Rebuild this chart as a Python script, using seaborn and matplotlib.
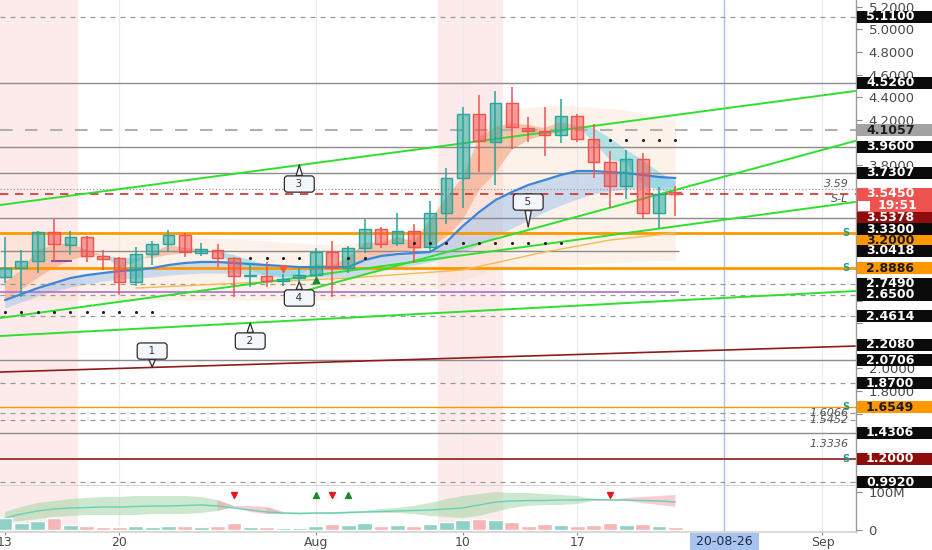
import numpy as np
import pandas as pd
import matplotlib
matplotlib.use("Agg")
import matplotlib.pyplot as plt
import matplotlib.transforms as mtransforms
from matplotlib.colors import to_rgba
from matplotlib.patches import Rectangle
import seaborn as sns

# ---------------- data (daily candles, day 0 = 13 Jul 2020) ----------------
days = list(range(42))
opens = [2.809, 2.888, 2.950, 3.207, 3.092, 3.163, 2.995, 2.977, 2.764, 3.012,
         3.101, 3.181, 3.021, 3.048, 2.977, 2.818, 2.818, 2.773, 2.800, 2.826,
         3.030, 2.888, 3.066, 3.234, 3.110, 3.216, 3.074, 3.376, 3.685, 4.252,
         4.004, 4.349, 4.128, 4.101, 4.066, 4.234, 4.030, 3.827, 3.614, 3.853,
         3.376, 3.561]
highs = [3.163, 3.048, 3.216, 3.322, 3.216, 3.170, 3.048, 2.986, 3.074, 3.128,
         3.225, 3.198, 3.110, 3.101, 2.986, 2.933, 2.942, 2.835, 2.897, 3.066,
         3.128, 3.083, 3.322, 3.251, 3.376, 3.278, 3.482, 3.774, 4.313, 4.420,
         4.455, 4.491, 4.225, 4.313, 4.384, 4.252, 4.163, 3.924, 3.933, 3.907,
         3.605, 3.614]
lows = [2.756, 2.632, 2.844, 2.950, 3.004, 2.942, 2.871, 2.650, 2.729, 2.915,
        3.030, 2.986, 2.995, 2.897, 2.632, 2.720, 2.720, 2.729, 2.764, 2.809,
        2.632, 2.844, 3.021, 3.066, 3.083, 2.933, 3.021, 3.278, 3.420, 3.738,
        3.623, 3.942, 4.004, 3.880, 3.995, 4.004, 3.685, 3.420, 3.499, 3.322,
        3.243, 3.349]
closes = [2.888, 2.950, 3.207, 3.101, 3.163, 2.995, 2.968, 2.764, 3.012, 3.101,
          3.181, 3.030, 3.057, 2.977, 2.818, 2.826, 2.773, 2.791, 2.826, 3.030,
          2.888, 3.066, 3.234, 3.101, 3.216, 3.074, 3.376, 3.685, 4.252, 4.013,
          4.349, 4.137, 4.101, 4.066, 4.234, 4.030, 3.827, 3.614, 3.853, 3.376,
          3.544, 3.545]
volumes_m = [31.6, 18.4, 23.7, 31.6, 13.2, 10.5, 7.9, 7.9, 10.5, 7.9,
             10.5, 10.5, 7.9, 10.5, 18.4, 7.9, 7.0, 5.3, 5.3, 10.5,
             15.8, 12.0, 18.4, 10.5, 13.2, 10.5, 15.8, 21.0, 26.3, 29.0,
             26.3, 21.0, 10.5, 15.8, 13.2, 10.5, 13.2, 18.4, 13.2, 15.8,
             10.5, 7.9]

# moving-average ribbons
ema_fast = [2.764, 2.871, 3.048, 3.092, 3.110, 3.048, 3.004, 2.888, 2.942, 3.021,
            3.092, 3.066, 3.057, 3.021, 2.915, 2.871, 2.818, 2.800, 2.818, 2.924,
            2.906, 2.986, 3.110, 3.110, 3.163, 3.119, 3.313, 3.517, 3.694, 4.048,
            4.137, 4.172, 4.154, 4.128, 4.181, 4.145, 4.004, 3.845, 3.818, 3.623,
            3.579, 3.552]
ema_mid = [2.605, 2.694, 2.800, 2.888, 2.959, 2.995, 3.004, 2.977, 2.977, 2.977,
           3.004, 3.021, 3.030, 3.030, 3.004, 2.959, 2.915, 2.888, 2.871, 2.888,
           2.888, 2.906, 2.959, 2.995, 3.030, 3.048, 3.074, 3.163, 3.313, 3.579,
           3.729, 3.933, 4.021, 4.066, 4.083, 4.145, 4.128, 4.039, 3.933, 3.845,
           3.738, 3.650]
ema_blue = [2.605, 2.658, 2.711, 2.756, 2.800, 2.826, 2.844, 2.862, 2.871, 2.888,
            2.915, 2.933, 2.942, 2.942, 2.933, 2.924, 2.915, 2.906, 2.897, 2.897,
            2.897, 2.897, 2.959, 2.995, 3.012, 3.021, 3.030, 3.119, 3.260, 3.384,
            3.490, 3.561, 3.623, 3.667, 3.712, 3.747, 3.747, 3.738, 3.729, 3.712,
            3.694, 3.685]
ema_blue_low = [2.535, 2.588, 2.641, 2.685, 2.720, 2.747, 2.773, 2.791, 2.800, 2.809,
                2.826, 2.835, 2.844, 2.844, 2.844, 2.835, 2.826, 2.818, 2.809, 2.809,
                2.809, 2.809, 2.835, 2.862, 2.888, 2.915, 2.942, 2.977, 3.030, 3.092,
                3.163, 3.243, 3.313, 3.384, 3.446, 3.499, 3.544, 3.570, 3.588, 3.596,
                3.605, 3.605]
slow_ma_days = [8, 21, 28, 33, 37, 41]
slow_ma = [2.711, 2.800, 2.871, 3.030, 3.136, 3.198]

cloud_days = [0, 10, 20, 26, 28, 30, 34, 38, 41]
cloud_top = [3.181, 3.181, 3.092, 3.181, 3.667, 4.287, 4.331, 4.287, 4.198]
cloud_bot = [2.605, 2.605, 2.605, 2.694, 2.782, 2.871, 2.915, 2.942, 2.959]

# lower pane oscillator band (in volume-pane units)
osc_line = [31.6, 42.1, 50.0, 55.3, 57.9, 59.2, 60.5, 60.5, 61.8, 63.2,
            63.2, 64.5, 65.8, 63.2, 57.9, 52.6, 47.4, 44.7, 43.4, 44.7,
            44.7, 46.1, 47.4, 48.7, 50.0, 51.3, 52.6, 55.3, 57.9, 65.8,
            73.7, 76.3, 77.6, 77.6, 78.9, 78.9, 80.3, 78.9, 78.9, 77.6,
            76.3, 73.7]
osc_up = [47.4, 60.5, 71.1, 76.3, 81.6, 84.2, 86.8, 86.8, 89.5, 89.5,
          89.5, 89.5, 86.8, 78.9, 63.2, 63.2, 60.5, 47.4, 46.1, 46.1,
          47.4, 48.7, 50.0, 55.3, 57.9, 63.2, 71.1, 81.6, 89.5, 94.7,
          100.0, 97.4, 97.4, 94.7, 92.1, 89.5, 81.6, 80.3, 84.2, 86.8,
          89.5, 92.1]
osc_lo = [21.1, 23.7, 28.9, 34.2, 36.8, 39.5, 39.5, 39.5, 39.5, 42.1,
          42.1, 42.1, 44.7, 50.0, 60.5, 47.4, 42.1, 42.1, 40.8, 42.1,
          42.1, 43.4, 44.7, 44.7, 44.7, 42.1, 36.8, 34.2, 31.6, 36.8,
          47.4, 57.9, 63.2, 65.8, 65.8, 68.4, 76.3, 77.6, 76.3, 71.1,
          65.8, 60.5]
osc_trend = [1, 1, 1, 1, 1, 1, 1, 1, 1, 1, 1, 1, 1, 1, -1, -1, -1, 1, 1, 1,
             1, 1, 1, 1, 1, 1, 1, 1, 1, 1, 1, 1, 1, 1, 1, 1, 1, -1, -1, -1,
             -1, -1]
sig_dn_days = [14, 20, 37]
sig_up_days = [19, 21]
sig_level = 92

# drawings on the price pane
solid_levels = [4.526, 3.96, 3.7307, 3.33, 2.0706, 1.4306]
dashed_levels = [5.11, 2.749, 2.65, 2.4614, 1.87, 0.992, 1.6066, 1.5452]
orange_levels = [3.2, 2.8886, 1.6549]
support_levels = [3.2, 2.8886, 1.6549, 1.2]
trend_lines = [(-0.3, 3.446, 52, 4.455), (17.4, 2.650, 52, 4.013),
               (-0.3, 2.446, 52, 3.473), (-0.3, 2.287, 52, 2.685)]
red_trend = (-0.3, 1.968, 52, 2.198)
dot_rows = [([0, 1, 2, 3, 4, 5, 6, 7, 8, 9], 2.499),
            ([15, 16, 17, 18, 21, 22], 2.977),
            ([25, 26, 27, 28, 29, 30, 31, 32, 33, 34], 3.110),
            ([37, 38, 39, 40, 41], 4.022)]
callout_text = ['1', '2', '3', '4', '5']
callout_days = [9, 15, 18, 18, 32]
callout_prices = [2.012, 2.402, 3.800, 2.765, 3.251]

axis_tags = [('5.1100', 5.11, '#0b0b0b', 'white'), ('4.5260', 4.526, '#0b0b0b', 'white'),
             ('4.1057', 4.1057, '#a3a3a3', '#1b1b1b'), ('3.9600', 3.96, '#0b0b0b', 'white'),
             ('3.7307', 3.7307, '#0b0b0b', 'white'), ('3.5450', 3.545, '#ef5350', 'white'),
             ('19:51', 3.545, '#ef5350', 'white'), ('3.5378', 3.5378, '#8e0c0c', 'white'),
             ('3.3300', 3.33, '#0b0b0b', 'white'), ('3.2000', 3.2, '#ff9800', '#1b1b1b'),
             ('3.0418', 3.0418, '#0b0b0b', 'white'), ('2.8886', 2.8886, '#ff9800', '#1b1b1b'),
             ('2.7490', 2.749, '#0b0b0b', 'white'), ('2.6500', 2.65, '#0b0b0b', 'white'),
             ('2.4614', 2.4614, '#0b0b0b', 'white'), ('2.2080', 2.208, '#0b0b0b', 'white'),
             ('2.0706', 2.0706, '#0b0b0b', 'white'), ('1.8700', 1.87, '#0b0b0b', 'white'),
             ('1.6549', 1.6549, '#ff9800', '#1b1b1b'), ('1.4306', 1.4306, '#0b0b0b', 'white'),
             ('1.2000', 1.2, '#8e0c0c', 'white'), ('0.9920', 0.992, '#0b0b0b', 'white')]
date_ticks = [0, 7, 19, 28, 35, 50]
date_labels = ['13', '20', 'Aug', '10', '17', 'Sep']
shade_ranges = [(-0.5, 4.45), (26.5, 30.45)]

# ---------------- layout ----------------
W, H = 932, 550
tag_nudge = {'19:51': 12, '3.5378': 23, '3.3300': 11, '3.2000': 8}
callout_offset = [16, -18, -19, -16, 25]

sns.set_theme(style="white")
plt.rcParams['font.family'] = ['DejaVu Sans']

fig = plt.figure(figsize=(W / 100, H / 100), dpi=100)
fig.patch.set_facecolor('white')
ax = fig.add_axes([0, 64 / H, 856 / W, 486 / H])
axv = fig.add_axes([0, 18 / H, 856 / W, 46 / H], sharex=ax)
x_lo, x_hi = -0.306, 52.05
y_lo, y_hi = 0.9595, 5.2604
v_lo, v_hi = -5.3, 115.8
px_per_price = 486 / (y_hi - y_lo)

df = pd.DataFrame({'day': days, 'open': opens, 'high': highs, 'low': lows,
                   'close': closes, 'vol': volumes_m})
df['dir'] = np.where(df['close'] >= df['open'], 'up', 'down')

# backgrounds
for a in (ax, axv):
    a.set_facecolor('white')
    for s0, s1 in shade_ranges:
        a.axvspan(s0, s1, color='#fde6e6', alpha=0.8, lw=0, zorder=0)
    for t in date_ticks[1:]:
        a.axvline(t, color='#ececec', lw=0.9, zorder=0.3)
    a.axvline(44, color='#a9c1ea', lw=1, zorder=0.4)

ax.fill_between(cloud_days, cloud_bot, cloud_top, color='#fbd3b5', alpha=0.28, lw=0, zorder=0.5)

# ribbons
fast = np.array(ema_fast)
mid = np.array(ema_mid)
ax.fill_between(days, ema_blue_low, ema_blue, color='#9cc0ec', alpha=0.5, lw=0, zorder=1)
ax.fill_between(days, fast, mid, where=fast >= mid, interpolate=True,
                color='#f4a582', alpha=0.6, lw=0, zorder=1.5)
ax.fill_between(days, fast, mid, where=fast <= mid, interpolate=True,
                color='#7fd6e3', alpha=0.6, lw=0, zorder=1.5)
sns.lineplot(x=days, y=ema_blue, ax=ax, color='#3d85d8', linewidth=1.6, zorder=2.8)
sns.lineplot(x=slow_ma_days, y=slow_ma, ax=ax, color='#f7b955', linewidth=1, zorder=2.2)

# horizontal levels
for lv in solid_levels:
    ax.axhline(lv, color='#8c8c8c', lw=1, zorder=2)
ax.hlines(3.0418, x_lo, 41.2, color='#8c8c8c', lw=1, zorder=2)
for lv in dashed_levels:
    ax.axhline(lv, color='#9a9a9a', lw=0.9, ls=(0, (4, 4)), zorder=2)
ax.axhline(4.1057, color='#b0b0b0', lw=1.5, ls=(0, (6, 6)), zorder=2)
ax.axhline(3.59, color='#9a9a9a', lw=0.9, ls=':', zorder=2)
ax.axhline(3.545, color='#d32f2f', lw=1.2, ls=(0, (5, 4)), zorder=2)
ax.axhline(1.2, color='#8e1b1b', lw=1.2, zorder=2)
ax.hlines(2.676, x_lo, 41.2, color='#b07ad0', lw=1.3, zorder=2)
ax.hlines(2.951, 2.8, 4.1, color='#6a3d9a', lw=1.2, zorder=2)
for lv in orange_levels:
    ax.axhline(lv, color='#ff9800', lw=2 if lv > 2 else 1, zorder=2.1)

for d0, p0, d1, p1 in trend_lines:
    ax.plot([d0, d1], [p0, p1], color='#2ee02e', lw=1.4, zorder=2.5)
ax.plot([red_trend[0], red_trend[2]], [red_trend[1], red_trend[3]], color='#8e1b1b', lw=1.2, zorder=2.5)

# candles
for side, col in [('up', '#26a69a'), ('down', '#ef5350')]:
    d = df[df['dir'] == side]
    ax.vlines(d['day'], d['low'], d['high'], color=col, lw=1.1, zorder=3)
    body_lo = d[['open', 'close']].min(axis=1)
    body_h = (d['close'] - d['open']).abs().clip(lower=0.012)
    ax.bar(d['day'], body_h, bottom=body_lo, width=0.72, color=to_rgba(col, 0.55),
           edgecolor=col, linewidth=1, zorder=3.2)

# dots and markers
for row_days, lv in dot_rows:
    sns.scatterplot(x=row_days, y=[lv] * len(row_days), ax=ax, s=5, color='#222222',
                    linewidth=0, zorder=4)
ax.scatter([17], [2.880], marker='v', s=22, color='#ff5a3c', zorder=4)
ax.scatter([19], [2.782], marker='^', s=22, color='#1b8a2e', zorder=4)
for lv in support_levels:
    ax.text(51.4, lv, 'S', color='#1e9e8a', fontsize=7, fontweight='bold',
            ha='center', va='center', zorder=4)
ax.text(51.6, 3.59, '3.59', color='#555555', fontsize=8, style='italic', ha='right', va='bottom', zorder=4)
ax.text(51.6, 3.545, 'S-L', color='#555555', fontsize=8, style='italic', ha='right', va='top', zorder=4)
for lv, s in [(1.6066, '1.6066'), (1.5452, '1.5452'), (1.3336, '1.3336')]:
    ax.text(51.6, lv, s, color='#555555', fontsize=8, style='italic', ha='right', va='center', zorder=4)

# callouts
for txt, d, p, off in zip(callout_text, callout_days, callout_prices, callout_offset):
    ax.annotate(f'\u2002 {txt} \u2002', xy=(d, p), xytext=(0, off), textcoords='offset pixels',
                ha='center', va='center', fontsize=7.5, color='#333333', zorder=5,
                bbox=dict(boxstyle='round,pad=0.3', fc='#f3f6fa', ec='#2b2b2b', lw=0.9),
                arrowprops=dict(arrowstyle='wedge,tail_width=0.6,shrink_factor=0.5',
                                fc='#f3f6fa', ec='#2b2b2b', lw=0.9, shrinkA=0, shrinkB=0))

# volume pane
sns.barplot(data=df, x='day', y='vol', hue='dir', palette={'up': '#8fd0c7', 'down': '#f6b6b6'},
            native_scale=True, width=0.9, saturation=1, errorbar=None, legend=False,
            ax=axv, zorder=2)
olo = np.array(osc_lo)
oup = np.array(osc_up)
tr = np.array(osc_trend)
g = tr > 0
g_ext = g | np.r_[False, g[:-1]] | np.r_[g[1:], False]
r_ext = (~g) | np.r_[False, ~g[:-1]] | np.r_[~g[1:], False]
axv.fill_between(days, olo, oup, where=g_ext, color='#a5d6a7', alpha=0.55, lw=0, zorder=1)
axv.fill_between(days, olo, oup, where=r_ext, color='#f4a3ad', alpha=0.55, lw=0, zorder=1)
sns.lineplot(x=days, y=osc_line, ax=axv, color='#66d1b6', linewidth=1, zorder=1.5)
axv.scatter(sig_dn_days, [sig_level] * len(sig_dn_days), marker='v', s=18, color='#e31a1c', zorder=3)
axv.scatter(sig_up_days, [sig_level] * len(sig_up_days), marker='^', s=18, color='#1b8a2e', zorder=3)

# axes styling
ax.set_xlim(x_lo, x_hi)
ax.set_ylim(y_lo, y_hi)
axv.set_ylim(v_lo, v_hi)
for a in (ax, axv):
    a.set_xlabel('')
    a.set_ylabel('')
    for sp in ('top', 'left'):
        a.spines[sp].set_visible(False)
    a.spines['right'].set_color('#9a9a9a')
    a.spines['right'].set_linewidth(1)
    a.yaxis.tick_right()
ax.spines['bottom'].set_color('#d4d4d4')
axv.spines['bottom'].set_color('#d4d4d4')

# price scale: hide the tick labels that sit under a tag
tag_pos = [p - tag_nudge.get(t, 0) / px_per_price for t, p, _, _ in axis_tags]
price_ticks = np.round(np.arange(1.0, 5.21, 0.2), 1)
ax.set_yticks(price_ticks)
ax.set_yticklabels(['' if min(abs(t - q) for q in tag_pos) * px_per_price < 7 else f'{t:.4f}'
                    for t in price_ticks])
ax.tick_params(axis='y', right=True, left=False, length=4, width=0.8, color='#8a8a8a',
               labelsize=9.5, labelcolor='#4a4a4a', pad=5)
ax.tick_params(axis='x', bottom=False, labelbottom=False)

axv.set_yticks([0, 100])
axv.set_yticklabels(['0', '100M'])
axv.tick_params(axis='y', right=True, left=False, length=4, width=0.8, color='#8a8a8a',
                labelsize=9.5, labelcolor='#4a4a4a', pad=5)
axv.set_xticks(date_ticks)
axv.set_xticklabels(date_labels)
axv.tick_params(axis='x', bottom=True, length=2, width=0.8, color='#8a8a8a',
                labelsize=9, labelcolor='#4a4a4a', pad=0.8)
axv.set_xlim(x_lo, x_hi)

# price axis tags
lab_trans = mtransforms.blended_transform_factory(fig.transFigure, ax.transData)
box_h = 12 / px_per_price
for text, price, face, color in axis_tags:
    shift = mtransforms.ScaledTranslation(0, -tag_nudge.get(text, 0) / fig.dpi, fig.dpi_scale_trans)
    trn = lab_trans + shift
    fig.add_artist(Rectangle((857 / W, price - box_h / 2), 75 / W, box_h, transform=trn,
                             facecolor=face, edgecolor='none', zorder=5))
    tx = 878 / W if text == '19:51' else 866 / W
    if text == '19:51':
        fig.add_artist(Rectangle((858 / W, price - box_h * 0.4), 12 / W, box_h * 0.8,
                                 transform=trn, facecolor='white', edgecolor='none', zorder=5.5))
    fig.text(tx, price, text, transform=trn, ha='left', va='center', fontsize=9,
             fontweight='bold', color=color, zorder=6)

date_trans = mtransforms.blended_transform_factory(axv.transData, fig.transFigure)
fig.text(44, 8.5 / H, ' 20-08-26 ', transform=date_trans, ha='center', va='center',
         fontsize=9, color='#1b2a44', zorder=6,
         bbox=dict(boxstyle='square,pad=0.2', fc='#a8c4ee', ec='none'))

fig.savefig('out.png', dpi=100, facecolor='white')
